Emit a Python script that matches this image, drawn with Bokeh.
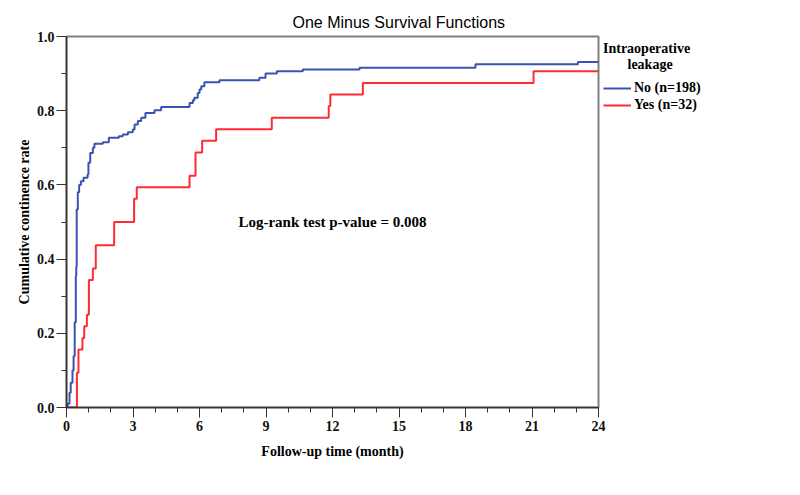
from bokeh.plotting import figure
from bokeh.models import Legend, LegendItem, Label, FixedTicker, Range1d, CustomJSTickFormatter
from bokeh.embed import file_html
from bokeh.resources import INLINE

# ---- data ----
no_t = [0, 0.05, 0.135, 0.19, 0.27, 0.32, 0.37, 0.42, 0.44, 0.46, 0.51, 0.57, 0.65, 0.77,
        0.95, 0.99, 1.07, 1.19, 1.26, 1.64, 1.91, 2.36, 2.54, 2.77, 2.99, 3.07, 3.22, 3.37,
        3.56, 3.97, 4.27, 5.55, 5.70, 5.77, 5.92, 6.0, 6.08, 6.22, 6.9, 8.7, 8.98, 9.49,
        10.66, 13.22, 18.45, 23.07, 24]
no_v = [0, 0.01, 0.04, 0.067, 0.10, 0.138, 0.23, 0.354, 0.38, 0.534, 0.58, 0.60, 0.61, 0.619,
        0.628, 0.66, 0.686, 0.70, 0.711, 0.715, 0.727, 0.731, 0.736, 0.742, 0.749, 0.763, 0.772,
        0.781, 0.794, 0.801, 0.81, 0.821, 0.828, 0.835, 0.848, 0.857, 0.866, 0.877, 0.882,
        0.889, 0.90, 0.906, 0.911, 0.916, 0.925, 0.931, 0.931]

yes_t = [0, 0.47, 0.54, 0.72, 0.80, 0.92, 1.01, 1.19, 1.32, 2.15, 3.05, 3.17, 5.55, 5.82,
         6.12, 6.75, 9.26, 11.83, 11.9, 13.37, 21.07, 24]
yes_events = [0, 3, 5, 6, 7, 8, 11, 12, 14, 16, 18, 19, 20, 22, 23, 24, 25, 26, 27, 28, 29, 29]
yes_n = 32
yes_v = [e / yes_n for e in yes_events]

series_labels = ["No (n=198)", "Yes (n=32)"]
legend_title = "Intraoperative\n\u00a0\u00a0\u00a0\u00a0\u00a0\u00a0\u00a0leakage"
title_text = "One Minus Survival Functions"
x_label = "Follow-up time (month)"
y_label = "Cumulative continence rate"
annotation = "Log-rank test p-value = 0.008"
x_major = [0, 3, 6, 9, 12, 15, 18, 21, 24]
y_major = [0.0, 0.2, 0.4, 0.6, 0.8, 1.0]

BLUE = "#3a52b0"
RED = "#ff2b36"
SERIF = "Liberation Serif"
SANS = "Liberation Sans"

p = figure(frame_width=532, frame_height=371, output_backend="svg", toolbar_location=None,
           x_range=Range1d(0, 24), y_range=Range1d(0, 1.0),
           min_border_left=66, min_border_top=36, min_border_bottom=60, min_border_right=10)

p.title.text = title_text
p.title.align = "left"
p.title.offset = 226
p.title.text_font = SANS
p.title.text_font_size = "16px"
p.title.text_font_style = "normal"
p.title.text_color = "#000000"
p.title.standoff = 12

r_no = p.step(no_t, no_v, mode="after", line_color=BLUE, line_width=2)
r_yes = p.step(yes_t, yes_v, mode="after", line_color=RED, line_width=2)

p.xgrid.visible = False
p.ygrid.visible = False
p.outline_line_color = "#808080"
p.outline_line_width = 2
p.background_fill_color = "white"
p.border_fill_color = "white"

for ax in (p.xaxis[0], p.yaxis[0]):
    ax.axis_line_color = "#333333"
    ax.axis_line_width = 1.5
    ax.major_tick_line_color = "#333333"
    ax.minor_tick_line_color = "#333333"
    ax.major_tick_in = 0
    ax.minor_tick_in = 0
    ax.major_tick_out = 10
    ax.minor_tick_out = 5
    ax.major_label_text_font = SERIF
    ax.major_label_text_font_size = "14px"
    ax.major_label_text_font_style = "bold"
    ax.major_label_text_color = "#111111"
    ax.axis_label_text_font = SERIF
    ax.axis_label_text_font_size = "14px"
    ax.axis_label_text_font_style = "bold"
    ax.axis_label_text_color = "#000000"

p.xaxis.ticker = FixedTicker(ticks=x_major, minor_ticks=list(range(0, 25)))
p.yaxis.ticker = FixedTicker(ticks=y_major, minor_ticks=[i / 10 for i in range(11)])
p.yaxis.formatter = CustomJSTickFormatter(code="return tick.toFixed(1);")
p.xaxis.major_label_standoff = 3
p.yaxis.major_label_standoff = 2
p.xaxis.axis_label = x_label
p.yaxis.axis_label = y_label
p.xaxis.axis_label_standoff = 10
p.yaxis.axis_label_standoff = 2

p.add_layout(Label(x=12, y=0.5, text=annotation, text_align="center", text_baseline="middle",
                   text_font=SERIF, text_font_size="15px", text_font_style="bold",
                   text_color="#000000"))

legend = Legend(items=[LegendItem(label=series_labels[0], renderers=[r_no]),
                       LegendItem(label=series_labels[1], renderers=[r_yes])],
                title=legend_title, location="top_left")
legend.title_text_font = SERIF
legend.title_text_font_size = "14px"
legend.title_text_font_style = "bold"
legend.title_text_color = "#000000"
legend.title_text_line_height = 1.3
legend.label_text_font = SERIF
legend.label_text_font_size = "14px"
legend.label_text_font_style = "bold"
legend.label_text_color = "#000000"
legend.border_line_color = None
legend.background_fill_alpha = 0
legend.glyph_width = 28
legend.glyph_height = 14
legend.label_standoff = 3
legend.spacing = 1
legend.padding = 2
legend.margin = 5
legend.title_standoff = 7
p.add_layout(legend, "right")

open("out.html", "w").write(file_html(p, INLINE))
